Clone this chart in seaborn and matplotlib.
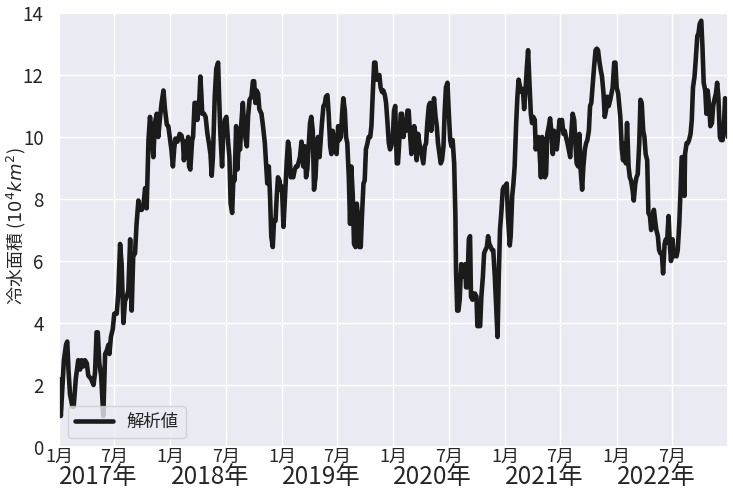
import numpy as np
import pandas as pd
import matplotlib
matplotlib.use("Agg")
import matplotlib.pyplot as plt
import matplotlib.dates as mdates
import seaborn as sns
from datetime import datetime

# ---- data: day offset from 2017-01-01 and cold-water area (10^4 km^2) ----
d17 = [0,6,11,16,23,27,31,36,44,48,55,63,69,74,80,85,91,96,105,113,118,123,127,132,138,145,151,156,162,165,170,176,181,189,194,200,205,211,216,222,227,233,238,243,249,254,260,265,271,276,282,287,293,298,304,309,314,320,325,331,336,342,347,353,358,364]
v17 = [2.2,1.0,1.9,2.8,3.3,3.4,2.5,1.7,1.3,1.3,2.2,2.8,2.5,2.8,2.6,2.8,2.7,2.3,2.2,2.0,2.4,3.7,3.7,2.7,2.3,1.0,3.0,3.1,3.3,3.0,3.55,3.8,4.3,4.3,4.95,6.55,5.9,4.0,4.7,4.85,5.05,6.7,4.4,6.15,6.25,7.2,7.95,7.65,7.65,7.75,8.35,7.7,9.9,10.65,10.0,9.35,10.45,10.75,10.0,10.65,11.1,11.5,10.9,10.4,10.35,9.9]

d18 = [368,373,377,381,388,395,401,406,409,414,418,423,426,430,436,439,444,450,453,459,463,466,469,475,480,486,491,496,500,504,510,515,521,524,528,534,538,543,548,554,558,562,567,571,575,580,584,588,593,597,602,606,610,615,619,624,630,635,639,643,647,652,656,663,668,674,678,682,687,691,695,700,704,709,713,717,722,726,730,735]
v18 = [9.6,9.05,9.6,9.95,9.85,10.1,10.05,9.8,9.25,9.85,9.35,10.0,9.05,8.95,9.9,10.0,11.1,11.1,10.55,11.1,11.95,11.4,10.75,10.75,10.65,10.1,9.8,9.45,8.75,9.35,11.3,12.2,12.4,11.4,10.2,9.05,10.2,10.55,10.65,9.8,9.35,7.85,7.55,8.7,8.6,10.35,8.95,9.7,9.6,10.45,11.1,10.35,10.0,9.7,10.65,11.2,11.3,11.8,11.8,11.1,11.5,11.4,10.9,10.75,10.35,9.8,9.15,8.5,9.05,8.1,6.8,6.45,7.3,7.3,8.1,8.7,8.6,8.3,8.4,7.1]

d19 = [741,746,750,754,759,763,767,772,776,781,785,789,794,797,800,805,809,813,818,822,826,831,835,840,844,848,853,857,861,866,870,874,879,883,888,892,896,901,905,909,914,918,923,927,931,936,940,944,949,953,957,962,966,971,975,979,984,988,992,997,1001,1005,1010,1014,1019,1023,1027,1032,1036,1040,1045,1049,1053,1058,1062,1067,1071,1075,1080,1084,1088,1093,1097,1101,1106]
v19 = [8.3,9.25,9.85,9.6,8.7,8.75,8.7,8.95,9.05,9.05,9.2,9.35,9.85,9.6,9.05,9.7,8.7,8.95,9.8,10.45,10.65,10.2,8.3,8.7,9.6,10.0,9.35,9.9,10.45,11.0,11.05,11.3,11.35,10.75,9.7,9.45,10.2,9.9,9.6,9.45,10.35,9.9,10.0,10.75,11.25,10.85,10.0,9.8,8.7,7.2,9.05,8.1,6.55,6.45,7.85,7.45,6.45,6.45,7.45,8.5,8.6,9.6,9.8,10.0,10.0,10.35,11.3,12.4,12.4,11.85,11.95,12.0,11.6,11.45,11.5,11.35,11.1,10.55,9.8,9.6,9.7,10.0,10.85,11.0,9.15]

d20 = [1110,1115,1119,1123,1128,1132,1136,1141,1145,1150,1154,1158,1163,1167,1171,1176,1180,1184,1189,1193,1198,1202,1206,1211,1215,1219,1224,1228,1233,1237,1241,1246,1250,1254,1259,1263,1267,1272,1276,1281,1285,1289,1294,1298,1300,1304,1308,1312,1317,1321,1325,1330,1333,1337,1342,1346,1349,1354,1358,1362,1367,1370,1374,1379,1383,1388,1392,1396,1401,1405,1409,1414,1418,1422,1427,1431,1436,1440,1444,1449,1453,1457,1462,1466,1470]
v20 = [9.15,10.0,10.75,10.75,10.0,10.45,10.2,10.85,10.85,10.0,9.45,9.9,10.35,10.1,9.25,10.1,9.8,9.6,9.35,9.15,9.7,9.8,10.45,11.0,11.1,10.2,10.85,11.25,10.65,10.35,9.8,9.45,9.15,9.25,9.7,10.85,11.6,11.75,10.85,9.9,9.7,9.9,9.15,7.45,5.7,4.4,4.4,4.75,5.9,5.7,5.5,5.9,5.15,5.15,6.7,6.8,4.85,4.75,4.95,4.95,4.85,3.9,3.9,3.9,4.85,5.5,6.25,6.35,6.45,6.8,6.55,6.45,6.35,6.35,5.5,4.65,3.55,5.5,7.0,7.65,8.3,8.4,8.4,8.5,7.45]

d21 = [1476,1479,1484,1488,1492,1497,1501,1505,1510,1514,1519,1523,1527,1532,1536,1540,1545,1549,1553,1558,1561,1565,1570,1574,1578,1582,1586,1591,1595,1599,1604,1608,1612,1617,1621,1626,1630,1634,1639,1643,1647,1652,1656,1660,1665,1669,1674,1678,1682,1687,1691,1695,1700,1704,1708,1713,1717,1722,1726,1730,1735,1739,1743,1748,1752,1757,1761,1765,1770,1774,1778,1783,1787,1791,1796,1800,1805,1809,1813,1818,1822,1826,1831]
v21 = [6.5,6.8,8.1,8.5,9.05,10.45,11.3,11.85,11.6,11.45,11.55,10.9,11.4,12.25,12.8,11.85,10.75,10.45,10.65,10.55,9.6,9.9,10.0,9.45,8.7,10.0,9.9,8.7,8.8,10.1,10.35,10.6,10.2,9.45,10.2,10.1,9.6,10.0,10.55,10.45,10.55,10.1,10.2,10.0,9.8,9.6,9.35,10.2,10.75,10.55,9.8,9.15,9.05,10.1,8.95,8.3,9.05,9.6,9.8,9.9,10.2,11.0,11.1,11.75,12.25,12.8,12.85,12.8,12.4,12.15,11.95,11.4,10.65,10.85,11.3,11.0,11.2,11.4,11.6,12.4,12.4,11.6,11.4]

d22 = [1838,1843,1847,1852,1856,1860,1865,1869,1873,1878,1882,1887,1891,1895,1900,1904,1908,1913,1917,1921,1926,1930,1935,1939,1943,1948,1952,1956,1961,1965,1969,1974,1978,1983,1987,1991,1996,2000,2004,2009,2013,2018,2022,2026,2031,2035,2039,2044,2048,2050,2055,2059,2063,2068,2072,2076,2081,2085,2090,2094,2098,2103,2107,2111,2116,2120,2124,2129,2133,2138,2142,2146,2151,2155,2159,2164,2168,2173,2177,2181,2186,2190]
v22 = [10.65,9.6,9.25,9.8,9.15,10.45,9.05,8.7,8.6,8.3,7.95,8.5,8.7,8.8,9.8,11.2,11.1,10.2,10.0,9.45,9.25,7.55,7.45,7.0,7.45,7.65,7.3,7.0,6.8,6.35,6.25,6.25,5.6,6.55,6.7,6.6,7.45,6.55,6.0,6.7,6.15,6.2,6.15,6.35,7.2,8.2,9.35,9.35,8.1,9.45,9.8,9.8,9.9,10.1,10.55,11.6,11.95,12.5,13.25,13.35,13.65,13.75,12.9,11.75,11.5,10.75,11.5,11.0,10.35,10.45,11.0,11.2,11.4,11.75,11.3,10.0,9.9,9.9,10.35,11.25,11.1,10.0]

years = [2017, 2018, 2019, 2020, 2021, 2022]
year_labels = [f"{y}年" for y in years]
series_label = "解析値"
ylabel = "冷水面積 ($10^4km^2$)"

days = d17 + d18 + d19 + d20 + d21 + d22
vals = v17 + v18 + v19 + v20 + v21 + v22
assert len(days) == len(vals)

origin = pd.Timestamp("2017-01-01")
df = pd.DataFrame({"date": origin + pd.to_timedelta(days, unit="D"), "area": vals})

# ---- style ----
sns.set_theme(style="darkgrid")
plt.rcParams["font.family"] = ["Noto Sans CJK JP", "DejaVu Sans"]

fig = plt.figure(figsize=(7.33, 4.94), dpi=100)
ax = fig.add_axes([59/733, 1 - 447/494, 669/733, 434/494])

sns.lineplot(data=df, x="date", y="area", ax=ax, color="#1b1b1b",
             linewidth=3.3, estimator=None, label=series_label)

ax.set_xlim(origin, origin + pd.Timedelta(days=2190.6))
ax.set_ylim(0, 14)
ax.set_yticks(np.arange(0, 15, 2))
ax.tick_params(axis="y", labelsize=13.5, pad=5)

ax.xaxis.set_major_locator(mdates.MonthLocator(bymonth=[1, 7]))
ax.xaxis.set_major_formatter(plt.FuncFormatter(lambda x, p: f"{mdates.num2date(x).month}月"))
ax.tick_params(axis="x", labelsize=13, pad=-5)
ax.set_xlabel("")

trans = ax.get_xaxis_transform()
for y, lab in zip(years, year_labels):
    ax.text(datetime(y, 1, 1), -0.069, lab, transform=trans, ha="left",
            va="center", fontsize=17.5, color="#262626")

ax.set_ylabel(ylabel, fontsize=13)
ax.yaxis.set_label_coords(-0.046, 0.51)

ax.legend(loc="lower left", fontsize=12.5, handlelength=2.2)

fig.savefig("out.png", dpi=100)
